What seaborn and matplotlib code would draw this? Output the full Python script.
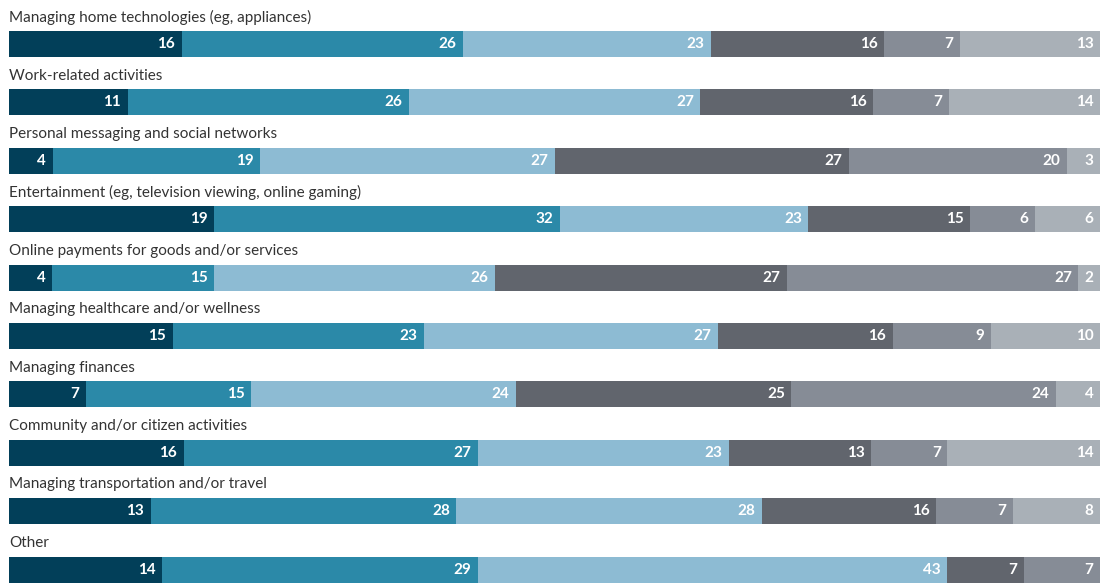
import numpy as np
import pandas as pd
import matplotlib
matplotlib.use("Agg")
import matplotlib.pyplot as plt
import seaborn as sns

categories = [
    "Managing home technologies (eg, appliances)",
    "Work-related activities",
    "Personal messaging and social networks",
    "Entertainment (eg, television viewing, online gaming)",
    "Online payments for goods and/or services",
    "Managing healthcare and/or wellness",
    "Managing finances",
    "Community and/or citizen activities",
    "Managing transportation and/or travel",
    "Other",
]
seg1 = [16, 11, 4, 19, 4, 15, 7, 16, 13, 14]
seg2 = [26, 26, 19, 32, 15, 23, 15, 27, 28, 29]
seg3 = [23, 27, 27, 23, 26, 27, 24, 23, 28, 43]
seg4 = [16, 16, 27, 15, 27, 16, 25, 13, 16, 7]
seg5 = [7, 7, 20, 6, 27, 9, 24, 7, 7, 7]
seg6 = [13, 14, 3, 6, 2, 10, 4, 14, 8, 0]

colors = ["#023f59", "#2b89a8", "#8dbbd3", "#61656d", "#868c96", "#a9b0b7"]

sns.set_style("white")
plt.rcParams["font.family"] = ["Lato", "DejaVu Sans"]

segs = np.array([seg1, seg2, seg3, seg4, seg5, seg6], dtype=float)
totals = segs.sum(axis=0)
shares = segs / totals * 100
cum = np.cumsum(shares, axis=0)

fig = plt.figure(figsize=(11.09, 5.83), dpi=100)
ax = fig.add_axes([9 / 1109, 0, 1091 / 1109, 1])

# draw cumulative bars from the longest to the shortest so they overlap into stacks
for k in range(5, -1, -1):
    df = pd.DataFrame({"category": categories, "value": cum[k]})
    sns.barplot(data=df, x="value", y="category", orient="h", color=colors[k],
                saturation=1, width=0.445, ax=ax, linewidth=0)

for i, cat in enumerate(categories):
    ax.text(0, i - 0.46, cat, ha="left", va="center", fontsize=11, color="#333333")
    for k in range(6):
        v = int(segs[k, i])
        if v == 0:
            continue
        ax.text(cum[k, i] - 0.6, i, str(v), ha="right", va="center",
                fontsize=11, fontweight="bold", color="white")

ax.set_xlim(0, 100)
ax.set_ylim(9.23, -0.753)
ax.set_xlabel("")
ax.set_ylabel("")
ax.set_xticks([])
ax.set_yticks([])
sns.despine(ax=ax, left=True, bottom=True)

fig.savefig("out.png", dpi=100)
